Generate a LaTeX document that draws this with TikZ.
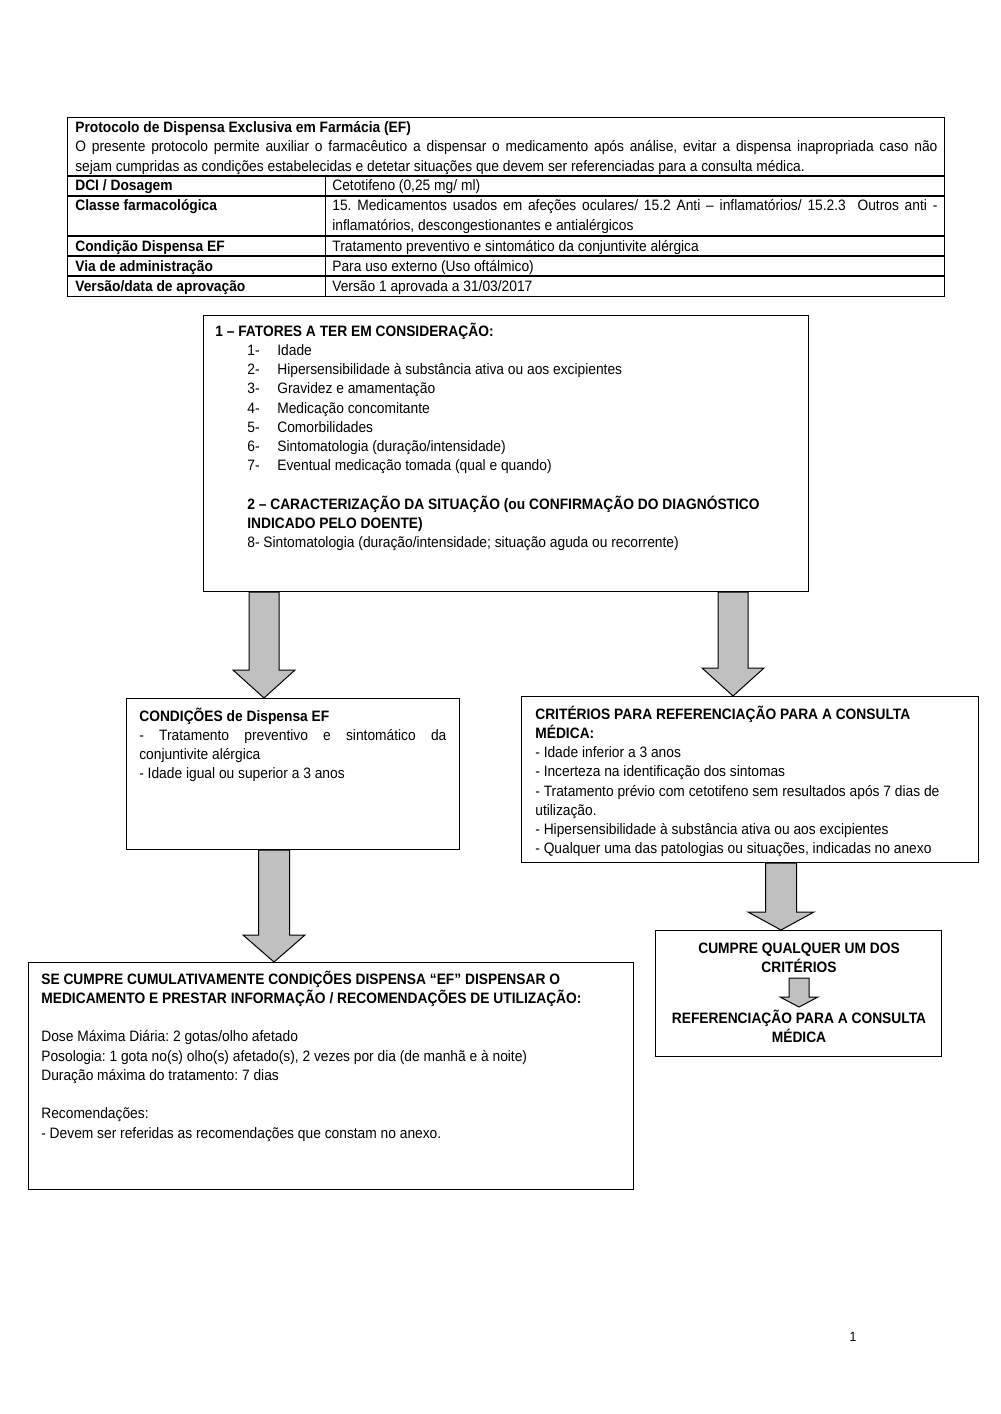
\documentclass[tikz,border=0pt]{standalone}
\usepackage{fontspec}
\setmainfont[FakeStretch=0.915]{Liberation Sans}
\usetikzlibrary{calc}
\definecolor{arrowgray}{RGB}{192,192,192}
\tolerance=9999
\frenchspacing
% block arrow: start, end, half shaft, half head, head length (px)
\newcommand{\blockarrow}[5]{%
  \draw[block arrow] ($(#1)+(-#3,0)$) -- ($(#2)+(-#3,-#5)$) -- ($(#2)+(-#4,-#5)$)
    -- (#2) -- ($(#2)+(#4,-#5)$) -- ($(#2)+(#3,-#5)$) -- ($(#1)+(#3,0)$) -- cycle;}

\begin{document}
\begin{tikzpicture}[x=0.021cm,y=-0.021cm,
  box/.style={draw,line width=0.6pt,rectangle,anchor=north west,inner sep=0pt},
  txt/.style={anchor=base west,inner sep=0pt,font=\fontsize{9}{11.5}\selectfont\frenchspacing,align=flush left},
  block arrow/.style={draw,line width=0.6pt,fill=arrowgray,line join=miter}]

\useasboundingbox (0,0) rectangle (1000,1414);

% Table
  \node[box,minimum width=18.417cm,minimum height=3.759cm] (tbl) at (67,117) {};
  \foreach \y in {176,196,236,256,276}
    \draw[line width=0.6pt] (tbl.west |- 0,\y) -- (tbl.east |- 0,\y);
  \draw[line width=0.6pt] (325,176) -- (tbl.south -| 325,0);

  \node[txt] (tbltitle) at (75,133) {\textbf{Protocolo de Dispensa Exclusiva em Farmácia (EF)}};
  \node[txt,text width=18.102cm,align=justify] (tblintro) at (75,152)
    {O presente protocolo permite auxiliar o farmacêutico a dispensar o medicamento após análise, evitar a dispensa inapropriada caso não\linebreak
     sejam cumpridas as condições estabelecidas e detetar situações que devem ser referenciadas para a consulta médica.};
  \node[txt] (dcilab) at (75,191) {\textbf{DCI / Dosagem}};
  \node[txt] (dcival) at (332,191) {Cetotifeno (0,25 mg/ ml)};
  \node[txt] (classlab) at (75,211) {\textbf{Classe farmacológica}};
  \node[txt,text width=12.705cm,align=justify] (classval) at (332,211)
    {15. Medicamentos usados em afeções oculares/ 15.2 Anti – inflamatórios/ 15.2.3\ \ Outros anti -\linebreak
     inflamatórios, descongestionantes e antialérgicos};
  \node[txt] (condlab) at (75,251) {\textbf{Condição Dispensa EF}};
  \node[txt] (condval) at (332,251) {Tratamento preventivo e sintomático da conjuntivite alérgica};
  \node[txt] (vialab) at (75,271) {\textbf{Via de administração}};
  \node[txt] (viaval) at (332,271) {Para uso externo (Uso oftálmico)};
  \node[txt] (verlab) at (75,291) {\textbf{Versão/data de aprovação}};
  \node[txt] (verval) at (332,291) {Versão 1 aprovada a 31/03/2017};

% Factors box
  \node[box,minimum width=12.705cm,minimum height=5.796cm] (fatores) at (203,315) {};
  \node[txt,text width=12.18cm] (fatorestxt) at (215,336)
    {\textbf{1 – FATORES A TER EM CONSIDERAÇÃO:}\\
     \hspace*{0.672cm}\makebox[0.63cm][l]{1-}Idade\\
     \hspace*{0.672cm}\makebox[0.63cm][l]{2-}Hipersensibilidade à substância ativa ou aos excipientes\\
     \hspace*{0.672cm}\makebox[0.63cm][l]{3-}Gravidez e amamentação\\
     \hspace*{0.672cm}\makebox[0.63cm][l]{4-}Medicação concomitante\\
     \hspace*{0.672cm}\makebox[0.63cm][l]{5-}Comorbilidades\\
     \hspace*{0.672cm}\makebox[0.63cm][l]{6-}Sintomatologia (duração/intensidade)\\
     \hspace*{0.672cm}\makebox[0.63cm][l]{7-}Eventual medicação tomada (qual e quando)\\[0.405cm]
     \hspace*{0.672cm}\textbf{2 – CARACTERIZAÇÃO DA SITUAÇÃO (ou CONFIRMAÇÃO DO DIAGNÓSTICO}\\
     \hspace*{0.672cm}\textbf{INDICADO PELO DOENTE)}\\
     \hspace*{0.672cm}8- Sintomatologia (duração/intensidade; situação aguda ou recorrente)};

% Conditions box
  \node[box,minimum width=6.993cm,minimum height=3.171cm] (cond) at (126,698) {};
  \node[txt,text width=6.447cm,align=justify] (condtxt) at (139,721)
    {\textbf{CONDIÇÕES de Dispensa EF}\\
     - Tratamento preventivo e sintomático da\linebreak
     conjuntivite alérgica\\
     - Idade igual ou superior a 3 anos};

% Referral criteria box
  \node[box,minimum width=9.597cm,minimum height=3.486cm] (crit) at (521,696) {};
  \node[txt,text width=9.03cm] (crittxt) at (535,719)
    {\textbf{CRITÉRIOS PARA REFERENCIAÇÃO PARA A CONSULTA}\\
     \textbf{MÉDICA:}\\
     - Idade inferior a 3 anos\\
     - Incerteza na identificação dos sintomas\\
     - Tratamento prévio com cetotifeno sem resultados após 7 dias de\\
     utilização.\\
     - Hipersensibilidade à substância ativa ou aos excipientes\\
     - Qualquer uma das patologias ou situações, indicadas no anexo};

% Dispense box
  \node[box,minimum width=12.705cm,minimum height=4.767cm] (disp) at (28,962) {};
  \node[txt,text width=12.18cm] (disptxt) at (41,984)
    {\textbf{SE CUMPRE CUMULATIVAMENTE CONDIÇÕES DISPENSA “EF” DISPENSAR O}\\
     \textbf{MEDICAMENTO E PRESTAR INFORMAÇÃO / RECOMENDAÇÕES DE UTILIZAÇÃO:}\\[0.405cm]
     Dose Máxima Diária: 2 gotas/olho afetado\\
     Posologia: 1 gota no(s) olho(s) afetado(s), 2 vezes por dia (de manhã e à noite)\\
     Duração máxima do tratamento: 7 dias\\[0.405cm]
     Recomendações:\\
     - Devem ser referidas as recomendações que constam no anexo.};

% Referral box
  \node[box,minimum width=6.006cm,minimum height=2.646cm] (refer) at (655,930) {};
  \node[txt,anchor=base,text width=5.67cm,align=flush center] (critmet) at (799,953)
    {\textbf{CUMPRE QUALQUER UM DOS}\\\textbf{CRITÉRIOS}};
  \node[txt,anchor=base,text width=5.67cm,align=flush center] (referral) at (799,1023)
    {\textbf{REFERENCIAÇÃO PARA A CONSULTA}\\\textbf{MÉDICA}};

% Arrows
  \coordinate (a1s) at ($(fatores.south west)+(61,0)$);
  \coordinate (a1e) at (a1s |- cond.north);
  \coordinate (a2s) at ($(fatores.south west)+(530,0)$);
  \coordinate (a2e) at (a2s |- crit.north);
  \coordinate (a3s) at ($(cond.south west)+(148,0)$);
  \coordinate (a3e) at (a3s |- disp.north);
  \coordinate (a4s) at ($(crit.south west)+(260,0)$);
  \coordinate (a4e) at (a4s |- refer.north);
  \coordinate (a5s) at ($(refer.north west)+(144,48)$);
  \coordinate (a5e) at ($(a5s)+(0,29)$);
  \blockarrow{a1s}{a1e}{15}{31}{28}
  \blockarrow{a2s}{a2e}{15}{31}{28}
  \blockarrow{a3s}{a3e}{15.5}{31}{27}
  \blockarrow{a4s}{a4e}{15.5}{33}{18}
  \blockarrow{a5s}{a5e}{10}{19}{10}

% Page number
  \node[txt,anchor=base,font=\fontsize{8}{9}\selectfont] (pagenum) at (853,1341) {1};

\end{tikzpicture}
\end{document}
